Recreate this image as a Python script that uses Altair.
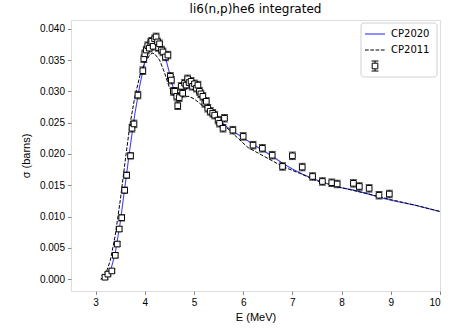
import altair as alt
import pandas as pd

# ---- measured data points (E in MeV, sigma in barns) ----
data_E = [3.19, 3.25, 3.33, 3.40, 3.44, 3.48, 3.53, 3.59, 3.63, 3.71, 3.74, 3.78, 3.86,
          3.96, 3.98, 4.00, 4.03, 4.06, 4.09, 4.12, 4.14, 4.17, 4.20, 4.23, 4.26, 4.28,
          4.30, 4.34, 4.37, 4.42, 4.47, 4.52, 4.54, 4.58, 4.61, 4.65, 4.67, 4.70, 4.74,
          4.77, 4.81, 4.84, 4.87, 4.90, 4.94, 4.97, 5.01, 5.05, 5.08, 5.11, 5.14, 5.18,
          5.22, 5.25, 5.28, 5.33, 5.38, 5.42, 5.49, 5.52, 5.59, 5.62, 5.79, 6.00, 6.20,
          6.39, 6.59, 6.80, 7.00, 7.20, 7.41, 7.61, 7.80, 7.91, 8.24, 8.36, 8.56, 8.76, 8.97]
data_sig = [0.0003, 0.0008, 0.0013, 0.0038, 0.0056, 0.0080, 0.0098, 0.0142, 0.0166, 0.0197, 0.0241, 0.0248, 0.0294,
            0.0333, 0.0352, 0.0360, 0.0366, 0.0373, 0.0369, 0.0378, 0.0380, 0.0372, 0.0384, 0.0387, 0.0379, 0.0370,
            0.0376, 0.0366, 0.0363, 0.0355, 0.0358, 0.0324, 0.0318, 0.0300, 0.0300, 0.0292, 0.0277, 0.0290, 0.0308,
            0.0297, 0.0313, 0.0310, 0.0320, 0.0314, 0.0316, 0.0308, 0.0312, 0.0305, 0.0310, 0.0300, 0.0296, 0.0292,
            0.0281, 0.0284, 0.0273, 0.0268, 0.0265, 0.0262, 0.0254, 0.0249, 0.0241, 0.0257, 0.0238, 0.0228, 0.0214,
            0.0209, 0.0198, 0.0180, 0.0197, 0.0179, 0.0164, 0.0156, 0.0154, 0.0152, 0.0153, 0.0148, 0.0145, 0.0134, 0.0136]
data_err = [0.0003, 0.0003, 0.0003, 0.0004, 0.0004, 0.0004, 0.0005, 0.0005, 0.0005, 0.0005, 0.0006, 0.0006, 0.0006,
            0.0006, 0.0006, 0.0006, 0.0006, 0.0006, 0.0006, 0.0006, 0.0006, 0.0006, 0.0006, 0.0006, 0.0006, 0.0006,
            0.0006, 0.0006, 0.0006, 0.0006, 0.0006, 0.0006, 0.0006, 0.0006, 0.0006, 0.0006, 0.0006, 0.0006, 0.0006,
            0.0006, 0.0006, 0.0006, 0.0006, 0.0006, 0.0006, 0.0006, 0.0006, 0.0006, 0.0006, 0.0006, 0.0006, 0.0006,
            0.0006, 0.0006, 0.0006, 0.0006, 0.0006, 0.0006, 0.0006, 0.0006, 0.0006, 0.0006, 0.0006, 0.0006, 0.0006,
            0.0006, 0.0006, 0.0006, 0.0006, 0.0006, 0.0006, 0.0006, 0.0006, 0.0006, 0.0006, 0.0006, 0.0006, 0.0006, 0.0006]

# ---- CP2020 evaluation (blue solid) ----
cp2020_E = [3.15, 3.20, 3.30, 3.40, 3.50, 3.60, 3.70, 3.80, 3.90, 4.00, 4.10, 4.20, 4.30, 4.40,
            4.50, 4.60, 4.65, 4.70, 4.80, 4.90, 5.00, 5.10, 5.20, 5.30, 5.40, 5.50, 5.65, 5.80,
            6.00, 6.20, 6.40, 6.60, 6.80, 7.00, 7.20, 7.40, 7.60, 7.80, 8.00, 8.20, 8.50, 8.80,
            9.00, 9.50, 10.00]
cp2020_sig = [0.0000, 0.0002, 0.0012, 0.0042, 0.0090, 0.0150, 0.0210, 0.0265, 0.0310, 0.0348, 0.0370, 0.0380, 0.0376, 0.0360,
              0.0330, 0.0298, 0.0289, 0.0289, 0.0300, 0.0308, 0.0307, 0.0298, 0.0287, 0.0277, 0.0266, 0.0256, 0.0244, 0.0236,
              0.0226, 0.0215, 0.0206, 0.0196, 0.0185, 0.0176, 0.0168, 0.0161, 0.0155, 0.0150, 0.0146, 0.0143, 0.0137, 0.0130,
              0.0126, 0.0118, 0.0108]

# ---- CP2011 evaluation (black dashed) ----
cp2011_E = [3.10, 3.15, 3.20, 3.30, 3.40, 3.50, 3.60, 3.70, 3.80, 3.90, 4.00, 4.10, 4.15, 4.20, 4.30,
            4.40, 4.50, 4.60, 4.70, 4.80, 4.90, 5.00, 5.10, 5.30, 5.50, 5.80, 6.10, 6.50, 6.80,
            7.15, 7.50, 8.00, 8.50, 9.00, 9.50, 10.00]
cp2011_sig = [0.0000, 0.0002, 0.0007, 0.0030, 0.0070, 0.0125, 0.0188, 0.0248, 0.0292, 0.0325, 0.0345, 0.0358, 0.0361, 0.0360, 0.0350,
              0.0330, 0.0306, 0.0292, 0.0289, 0.0292, 0.0292, 0.0288, 0.0282, 0.0268, 0.0254, 0.0232, 0.0210, 0.0193, 0.0180,
              0.0169, 0.0157, 0.0146, 0.0137, 0.0127, 0.0118, 0.0108]

legend_labels = ["CP2020", "CP2011"]
x_ticks = [3, 4, 5, 6, 7, 8, 9, 10]
y_ticks = [0, 0.005, 0.01, 0.015, 0.02, 0.025, 0.03, 0.035, 0.04]

pts = pd.DataFrame({"E": data_E, "sig": data_sig, "err": data_err})
pts["lo"] = pts["sig"] - pts["err"]
pts["hi"] = pts["sig"] + pts["err"]
c20 = pd.DataFrame({"E": cp2020_E, "sig": cp2020_sig})
c11 = pd.DataFrame({"E": cp2011_E, "sig": cp2011_sig})

W, H = 369, 271
xs = alt.Scale(domain=[2.5, 10], nice=False, zero=False)
ys = alt.Scale(domain=[-0.0019, 0.0414], nice=False, zero=False)

xax = alt.Axis(values=x_ticks, format="d", title="E (MeV)", grid=False, labelOverlap=False,
               tickSize=3.5, labelPadding=3, titlePadding=4, domain=False, titleFontWeight="normal")
yax = alt.Axis(values=y_ticks, format=".3f", title="σ (barns)", grid=False, labelOverlap=False,
               tickSize=3.5, labelPadding=3, titlePadding=8, domain=False, titleFontWeight="normal")


def X(f="E"):
    return alt.X(f"{f}:Q", scale=xs, axis=xax)


def Y(f):
    return alt.Y(f"{f}:Q", scale=ys, axis=yax)


line20 = alt.Chart(c20).mark_line(color="#0000ff", strokeWidth=1.1, opacity=0.75).encode(x=X(), y=Y("sig"))
line11 = alt.Chart(c11).mark_line(color="black", strokeWidth=1, strokeDash=[3.7, 1.6]).encode(x=X(), y=Y("sig"))

base = alt.Chart(pts)
bars = base.mark_rule(color="black", strokeWidth=1).encode(x=X(), y=Y("lo"), y2="hi:Q")
cap_lo = base.mark_tick(color="black", orient="horizontal", size=7, thickness=1).encode(x=X(), y=Y("lo"))
cap_hi = base.mark_tick(color="black", orient="horizontal", size=7, thickness=1).encode(x=X(), y=Y("hi"))
marks = base.mark_point(shape="square", size=32, filled=True, fill="white", stroke="black",
                        strokeWidth=1, opacity=1).encode(x=X(), y=Y("sig"))

# ---- legend (drawn in pixel space) ----
one = pd.DataFrame({"a": [0]})
lg_box = alt.Chart(one).mark_rect(fill="white", stroke="#cccccc", strokeWidth=1, cornerRadius=3, opacity=0.9).encode(
    x=alt.value(290), x2=alt.value(366), y=alt.value(3), y2=alt.value(57))
lg_l1 = alt.Chart(one).mark_rule(color="#0000ff", strokeWidth=1.5, opacity=0.6).encode(
    x=alt.value(294), x2=alt.value(314), y=alt.value(14))
lg_l2 = alt.Chart(one).mark_rule(color="black", strokeWidth=1, strokeDash=[3.7, 1.6]).encode(
    x=alt.value(294), x2=alt.value(314), y=alt.value(30))
lg_t1 = alt.Chart(one).mark_text(text=legend_labels[0], align="left", baseline="middle", fontSize=10,
                                 font="DejaVu Sans", color="black").encode(x=alt.value(320), y=alt.value(14))
lg_t2 = alt.Chart(one).mark_text(text=legend_labels[1], align="left", baseline="middle", fontSize=10,
                                 font="DejaVu Sans", color="black").encode(x=alt.value(320), y=alt.value(30))
lg_eb = alt.Chart(one).mark_rule(color="black", strokeWidth=1).encode(
    x=alt.value(304), y=alt.value(41), y2=alt.value(51))
lg_c1 = alt.Chart(one).mark_rule(color="black", strokeWidth=1).encode(
    x=alt.value(300.5), x2=alt.value(307.5), y=alt.value(41))
lg_c2 = alt.Chart(one).mark_rule(color="black", strokeWidth=1).encode(
    x=alt.value(300.5), x2=alt.value(307.5), y=alt.value(51))
lg_m = alt.Chart(one).mark_point(shape="square", size=32, filled=True, fill="white", stroke="black",
                                 strokeWidth=1, opacity=1).encode(x=alt.value(304), y=alt.value(46))

chart = alt.layer(line20, line11, bars, cap_lo, cap_hi, marks,
                  lg_box, lg_l1, lg_l2, lg_t1, lg_t2, lg_eb, lg_c1, lg_c2, lg_m).properties(
    width=W, height=H,
    title=alt.TitleParams("li6(n,p)he6 integrated", fontSize=12, font="DejaVu Sans", fontWeight="normal",
                          anchor="middle", offset=4, color="black"),
    autosize=alt.AutoSizeParams(type="none"),
    padding={"left": 71, "top": 20, "right": 21, "bottom": 41},
).configure_view(stroke="black", strokeWidth=1).configure_axis(
    labelFont="DejaVu Sans", titleFont="DejaVu Sans", labelFontSize=10, titleFontSize=10,
    labelColor="black", titleColor="black", tickColor="black", titleFontWeight="normal"
).configure(background="white")

chart.save("out.html", embed_options={"renderer": "svg", "actions": False})
